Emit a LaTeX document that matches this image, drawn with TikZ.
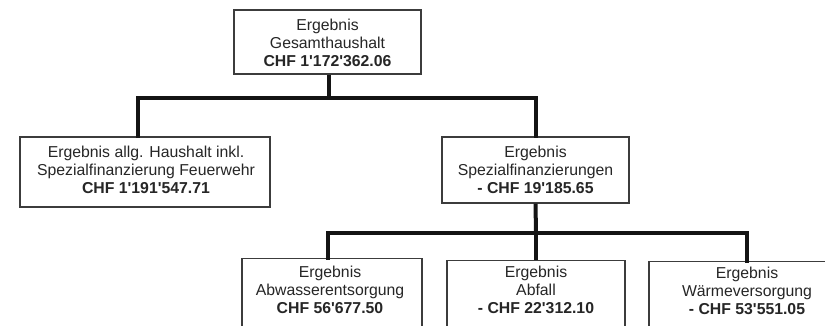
\documentclass[tikz,border=0pt]{standalone}
\usepackage{fontspec}
\setmainfont{Liberation Sans}
\definecolor{txt}{HTML}{262626}
\definecolor{edge}{HTML}{3C3C3C}
\definecolor{conn}{HTML}{141414}
\newcommand{\ap}{\textquotesingle}
\begin{document}
\begin{tikzpicture}[x=1pt,y=1pt,
  box/.style={draw=edge,line width=1.2pt,fill=white,inner sep=0pt},
  lbl/.style={text=txt,align=center,font=\fontsize{15.8}{18.3}\selectfont,inner sep=0pt},
  conline/.style={draw=conn,line width=4pt}]
\useasboundingbox (0,0) rectangle (825,-325);
\clip (0,0) rectangle (825,-325);
% top
\node[box,minimum width=187,minimum height=64] (top) at (327.5,-42) {};
\node[lbl] (toptxt) at (327.5,-43) {Ergebnis\\Gesamthaushalt\\\textbf{CHF 1\ap172\ap362.06}};
% level 2
\node[box,minimum width=250,minimum height=70] (left) at (145,-172) {};
\node[lbl] (lefttxt) at (146,-170) {Ergebnis allg. Haushalt inkl.\\Spezialfinanzierung Feuerwehr\\\textbf{CHF 1\ap191\ap547.71}};
\node[box,minimum width=187,minimum height=66] (mid) at (535.5,-170) {};
\node[lbl] (midtxt) at (535.5,-170) {Ergebnis\\Spezialfinanzierungen\\\textbf{- CHF 19\ap185.65}};
% level 3
\node[box,minimum width=180,minimum height=100,anchor=north] (b1) at (332,-258) {};
\node[lbl] (b1txt) at (330,-290) {Ergebnis\\Abwasserentsorgung\\\textbf{CHF 56\ap677.50}};
\node[box,minimum width=178,minimum height=100,anchor=north] (b2) at (536,-260) {};
\node[lbl] (b2txt) at (536,-290) {Ergebnis\\Abfall\\\textbf{- CHF 22\ap312.10}};
\node[box,minimum width=196,minimum height=100,anchor=north] (b3) at (747,-261) {};
\node[lbl] (b3txt) at (747,-291) {Ergebnis\\Wärmeversorgung\\\textbf{- CHF 53\ap551.05}};
% junctions
\coordinate (j1) at (329,-98);
\coordinate (j2) at (536,-233);
% connectors
\draw[conline] ([xshift=1.5pt]top.south) -- (j1);
\draw[conline,line cap=rect] ([xshift=-7pt]left.north) |- (j1) -| (mid.north);
\draw[conline] (mid.south) -- (j2);
\draw[conline,line cap=rect] ([xshift=-4pt]b1.north) |- (j2) -| (b3.north);
\draw[conline] (j2) -- (b2.north);
\end{tikzpicture}
\end{document}
